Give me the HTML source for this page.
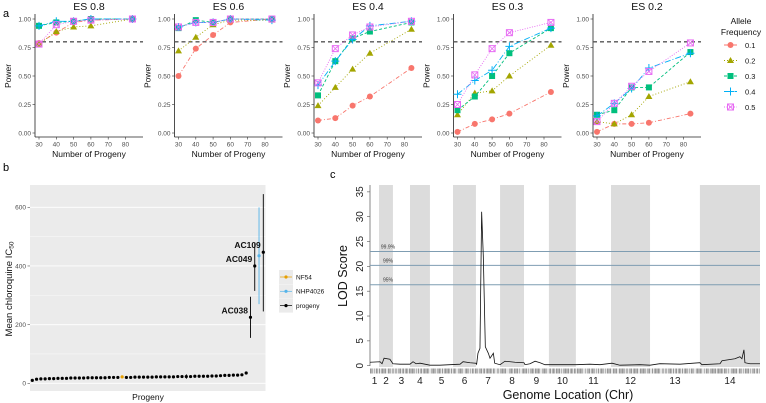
<!DOCTYPE html>
<html><head><meta charset="utf-8"><style>
html,body{margin:0;padding:0;background:#fff;}
svg{display:block;font-family:"Liberation Sans",sans-serif;}
</style></head><body>
<svg id="fig" width="766" height="403" viewBox="0 0 766 403" xmlns="http://www.w3.org/2000/svg"></svg>
<script>
// ---------- Panel a data ----------
const progenyN = [30, 40, 50, 60, 84];
const esTitles = ["ES 0.8", "ES 0.6", "ES 0.4", "ES 0.3", "ES 0.2"];
const afLabels = ["0.1", "0.2", "0.3", "0.4", "0.5"];
const es08 = [[.79,.88,.97,.99,1.0],[.78,.89,.93,.94,1.0],[.94,.97,.98,1.0,1.0],[.94,.98,.98,1.0,1.0],[.78,.95,.98,.99,1.0]];
const es06 = [[.50,.74,.86,.97,1.0],[.72,.84,.95,.99,.99],[.92,.99,.97,1.0,1.0],[.93,.97,.97,1.0,.99],[.93,.97,.97,1.0,1.0]];
const es04 = [[.11,.13,.24,.32,.57],[.24,.40,.56,.70,.91],[.33,.63,.83,.89,.97],[.42,.63,.82,.94,.98],[.44,.74,.86,.93,.98]];
const es03 = [[.01,.08,.12,.17,.36],[.16,.35,.37,.50,.77],[.20,.32,.50,.70,.92],[.34,.46,.55,.76,.92],[.25,.51,.74,.88,.97]];
const es02 = [[.01,.08,.08,.09,.17],[.10,.08,.16,.32,.45],[.16,.20,.40,.40,.71],[.15,.26,.39,.57,.70],[.10,.26,.41,.54,.79]];
const powerTicks = ["0.00", "0.25", "0.50", "0.75", "1.00"];
const xTicksA = [30, 40, 50, 60, 70, 80];
// ---------- Panel b data ----------
const progenyIC50 = [10,14,15,15,16,16,17,17,17,18,18,18,18,19,19,19,19,19,20,20,20,22,20,20,21,21,21,21,21,22,22,22,22,22,23,23,23,23,24,24,24,24,25,25,26,27,27,28,28,29,35];
const progenyErr = [2,2,2,2,2,2,2,2,2,2,3,2,2,2,2,3,2,2,3,2,2,2,2,2,2,2,2,2,2,2,2,2,3,2,2,2,8,2,2,2,2,2,2,2,2,2,2,2,2,2,3];
const nf54Index = 21;
const highNames = ["AC038", "AC049", "NHP4026", "AC109"];
const highValues = [225, 400, 435, 447];
const highLo = [155, 315, 270, 245];
const highHi = [295, 480, 600, 645];
const icTicks = [0, 200, 400, 600];
// ---------- Panel c data ----------
const chrBounds = [0,0.54,1.37,2.39,3.58,4.96,6.33,7.77,9.2,10.69,12.3,14.4,16.73,19.71,23.3];
const lodPos = [0,0.6,0.72,0.84,1.19,1.37,1.79,2.39,2.57,2.75,2.99,3.58,4.18,4.78,5.38,5.56,5.98,6.33,6.37,6.45,6.57,6.67,6.77,6.89,7.07,7.17,7.37,7.45,7.77,8.06,8.66,9.2,9.26,9.56,9.86,10.16,10.45,11.35,12.31,13.14,13.74,14.46,14.93,16.13,16.73,17.32,18.52,19.71,19.83,20.91,21.03,21.8,22.1,22.22,22.34,22.4,22.7,23.3];
const lodVal = [0.7,0.8,0.4,1.5,1.3,0.4,0.3,0.3,0.8,0.4,0.5,0.1,0.1,0.2,0.3,0.8,0.6,0.5,0.3,2.5,3.5,31,22,3.8,2.5,1.5,2.5,0.5,0.2,0.9,0.7,0.6,0.2,0.4,0.9,0.6,0.2,0.2,0.2,0.3,0.2,0.5,0.1,0.2,0.1,0.4,0.3,0.6,0.2,0.4,1.0,1.4,1.8,1.4,3.2,0.6,0.4,0.4];
const thrNames = ["99.9%", "99%", "95%"];
const thrVals = [23.0, 20.2, 16.3];
const lodTicks = [0, 5, 10, 15, 20, 25, 30, 35];

const NS = "http://www.w3.org/2000/svg";
const svg = document.getElementById("fig");
function mk(tag, attrs, parent, text) {
  const e = document.createElementNS(NS, tag);
  for (const k in attrs) e.setAttribute(k, attrs[k]);
  if (text !== undefined) e.textContent = text;
  (parent || svg).appendChild(e);
  return e;
}

const colors = ["#F8766D", "#A3A500", "#00BF7D", "#00B0F6", "#E76BF3"];
const dashes = ["4,2,1,2", "1,2", "3,2", "6,2,1,2", "1,1.5"];
function marker(g, k, x, y) {
  const c = colors[k];
  let m;
  if (k === 0) m = mk("circle", {cx: x, cy: y, r: 3, fill: c}, g);
  else if (k === 1) m = mk("polygon", {points: `${x},${y-3.5} ${x+3.5},${y+2.5} ${x-3.5},${y+2.5}`, fill: c}, g);
  else if (k === 2) m = mk("rect", {x: x-3, y: y-3, width: 6, height: 6, fill: c}, g);
  else if (k === 3) {
    m = mk("path", {d: `M${x-4},${y}H${x+4}M${x},${y-4}V${y+4}`, stroke: c, "stroke-width": 1}, g);
  } else {
    m = mk("g", {}, g);
    mk("rect", {x: x-3, y: y-3, width: 6, height: 6, fill: "none", stroke: c, "stroke-width": 1}, m);
    mk("path", {d: `M${x-3},${y-3}L${x+3},${y+3}M${x+3},${y-3}L${x-3},${y+3}`, stroke: c, "stroke-width": 0.8}, m);
  }
  return m;
}

// ---------- Panel a ----------
const esData = [es08, es06, es04, es03, es02];
const axisXs = [35, 174.5, 314, 453.5, 593];
const yA = v => 133 - v * 114;
mk("text", {x: 3, y: 17, "font-size": 11}, svg, "a");
esData.forEach((series, p) => {
  const ax = axisXs[p];
  const xA = v => ax + 4 + (v - 30) * 1.73;
  const g = mk("g", {});
  
  
  const t = mk("text", {x: ax + 54, y: 10, "font-size": 10.5, "text-anchor": "middle", fill: "#111"}, g, esTitles[p]);
  
  
  mk("line", {x1: ax, y1: 14, x2: ax, y2: 137, stroke: "#222", "stroke-width": 0.8}, g);
  mk("line", {x1: ax, y1: 137, x2: ax + 108, y2: 137, stroke: "#222", "stroke-width": 0.8}, g);
  powerTicks.forEach(tk => {
    const y = yA(parseFloat(tk));
    mk("line", {x1: ax - 2.5, y1: y, x2: ax, y2: y, stroke: "#333", "stroke-width": 0.6}, g);
    mk("text", {x: ax - 4, y: y + 2.3, "font-size": 6.5, "text-anchor": "end", fill: "#4d4d4d"}, g, tk);
  });
  xTicksA.forEach(tk => {
    const x = xA(tk);
    mk("line", {x1: x, y1: 137, x2: x, y2: 139.5, stroke: "#333", "stroke-width": 0.6}, g);
    mk("text", {x: x, y: 146.5, "font-size": 6.5, "text-anchor": "middle", fill: "#4d4d4d"}, g, String(tk));
  });
  const xl = mk("text", {x: ax + 54, y: 157, "font-size": 8.5, "text-anchor": "middle", fill: "#111"}, g, "Number of Progeny");
  
  
  const yl = mk("text", {x: 0, y: 0, "font-size": 8.5, "text-anchor": "middle", fill: "#111", transform: `translate(${ax - 24},76) rotate(-90)`}, g, "Power");
  
  
  mk("line", {x1: ax, y1: yA(0.8), x2: ax + 108, y2: yA(0.8), stroke: "#555", "stroke-width": 1.3, "stroke-dasharray": "4,3"}, g);
  series.forEach((vals, k) => {
    const pts = vals.map((v, i) => `${xA(progenyN[i])},${yA(v)}`).join(" ");
    const pl = mk("polyline", {points: pts, fill: "none", stroke: colors[k], "stroke-width": 0.9, "stroke-dasharray": dashes[k]}, g);
    
    
    vals.forEach((v, i) => {
      const m = marker(g, k, xA(progenyN[i]), yA(v));
      
      
    });
  });
});
// legend a
const lg = mk("g", {});


mk("text", {x: 741, y: 24, "font-size": 8.5, "text-anchor": "middle", fill: "#111"}, lg, "Allele");
mk("text", {x: 741, y: 35, "font-size": 8.5, "text-anchor": "middle", fill: "#111"}, lg, "Frequency");
afLabels.forEach((l, k) => {
  const y = 45 + k * 15.5;
  const e = mk("g", {}, lg);
  
  
  mk("line", {x1: 724, y1: y, x2: 737, y2: y, stroke: colors[k], "stroke-width": 0.9, "stroke-dasharray": dashes[k]}, e);
  marker(e, k, 730.5, y);
  mk("text", {x: 745, y: y + 2.8, "font-size": 7.5, fill: "#111"}, e, l);
});

// ---------- Panel b ----------
mk("text", {x: 3, y: 171, "font-size": 11}, svg, "b");
const gb = mk("g", {});


const yB = v => 383.3 - v * 0.2933;
const nTotal = progenyIC50.length + highValues.length;
const xB = i => 32.3 + i * (263.3 - 32.3) / (nTotal - 1);
mk("rect", {x: 30, y: 185, width: 235.5, height: 206, fill: "#ebebeb"}, gb);
[100, 300, 500].forEach(v => mk("line", {x1: 30, y1: yB(v), x2: 265.5, y2: yB(v), stroke: "#fff", "stroke-width": 0.4}, gb));
icTicks.forEach(v => {
  mk("line", {x1: 30, y1: yB(v), x2: 265.5, y2: yB(v), stroke: "#fff", "stroke-width": 0.9}, gb);
  mk("line", {x1: 27.5, y1: yB(v), x2: 30, y2: yB(v), stroke: "#333", "stroke-width": 0.5}, gb);
  mk("text", {x: 26, y: yB(v) + 2.3, "font-size": 6.5, "text-anchor": "end", fill: "#4d4d4d"}, gb, String(v));
});
const byl = mk("text", {x: 0, y: 0, "font-size": 9.5, "text-anchor": "middle", fill: "#111", transform: "translate(12,289) rotate(-90)"}, gb);
byl.innerHTML = 'Mean chloroquine IC<tspan font-size="6.5" dy="1.5">50</tspan>';


const bxl = mk("text", {x: 148, y: 400, "font-size": 8.5, "text-anchor": "middle", fill: "#111"}, gb, "Progeny");


progenyIC50.forEach((v, i) => {
  const c = i === nf54Index ? "#E69F00" : "#000";
  mk("line", {x1: xB(i), y1: yB(v - progenyErr[i]), x2: xB(i), y2: yB(v + progenyErr[i]), stroke: c, "stroke-width": 0.7}, gb);
  const d = mk("circle", {cx: xB(i), cy: yB(v), r: 1.6, fill: c}, gb);
  
  
});
highValues.forEach((v, j) => {
  const i = progenyIC50.length + j;
  const c = highNames[j] === "NHP4026" ? "#56B4E9" : "#000";
  mk("line", {x1: xB(i), y1: yB(highLo[j]), x2: xB(i), y2: yB(highHi[j]), stroke: c, "stroke-width": 0.9}, gb);
  const d = mk("circle", {cx: xB(i), cy: yB(v), r: 1.6, fill: c}, gb);
  
  
  if (highNames[j] !== "NHP4026") {
    const lt = mk("text", {x: xB(i) - 2.5, y: yB(v) - 4, "font-size": 8.5, "font-weight": "bold", "text-anchor": "end", fill: "#111"}, gb, highNames[j]);
    
    
  }
});
const lb = mk("g", {}, gb);


[["NF54", "#E69F00"], ["NHP4026", "#56B4E9"], ["progeny", "#000"]].forEach((e, k) => {
  const y = 277 + k * 14.3;
  mk("rect", {x: 279, y: y - 7, width: 14, height: 14, fill: "#ebebeb"}, lb);
  mk("line", {x1: 280, y1: y, x2: 292, y2: y, stroke: e[1], "stroke-width": 0.7}, lb);
  mk("circle", {cx: 286, cy: y, r: 1.6, fill: e[1]}, lb);
  mk("text", {x: 296, y: y + 2.3, "font-size": 6.5, fill: "#111"}, lb, e[0]);
});

// ---------- Panel c ----------
mk("text", {x: 330, y: 178, "font-size": 11}, svg, "c");
const gc = mk("g", {});


const xC = v => 370 + v * (390 / 23.3);
const yC = v => 365.7 - v * 4.967;
for (let c = 1; c < chrBounds.length - 1; c += 2) {
  const r = mk("rect", {x: xC(chrBounds[c]), y: 185, width: xC(chrBounds[c + 1]) - xC(chrBounds[c]), height: 182, fill: "#dcdcdc"}, gc);
  
  
}
for (let c = 0; c < chrBounds.length - 1; c++) {
  const mid = (xC(chrBounds[c]) + xC(chrBounds[c + 1])) / 2;
  mk("text", {x: mid, y: 384, "font-size": 10, "text-anchor": "middle", fill: "#222"}, gc, String(c + 1));
}
// rug (decorative marker density strip)
const rug = mk("g", {}, gc);


mk("rect", {x: 370, y: 368.5, width: 390, height: 5, fill: "#e6e6e6"}, rug);
for (let i = 0; i <= 390; i += 1) {
  if (i % 7 === 3 || i % 11 === 5 || i % 13 === 8) continue;
  mk("line", {x1: 370 + i + 0.5, y1: 368.5, x2: 370 + i + 0.5, y2: 373.5, stroke: "#555", "stroke-width": 0.6, opacity: (i % 3 === 0) ? 0.9 : 0.55}, rug);
}
mk("line", {x1: 370, y1: 185, x2: 370, y2: 366, stroke: "#555", "stroke-width": 0.7}, gc);
lodTicks.forEach(v => {
  mk("line", {x1: 367, y1: yC(v), x2: 370, y2: yC(v), stroke: "#555", "stroke-width": 0.6}, gc);
  mk("text", {x: 0, y: 0, "font-size": 10, "text-anchor": "middle", fill: "#222", transform: `translate(363,${yC(v)}) rotate(-90)`}, gc, String(v));
});
const cyl = mk("text", {x: 0, y: 0, "font-size": 12.5, "text-anchor": "middle", fill: "#111", transform: "translate(347,276) rotate(-90)"}, gc, "LOD Score");


const cxl = mk("text", {x: 568, y: 399, "font-size": 12.5, "text-anchor": "middle", fill: "#111"}, gc, "Genome Location (Chr)");


thrVals.forEach((v, k) => {
  const l = mk("line", {x1: 370, y1: yC(v), x2: 760, y2: yC(v), stroke: "#7f9db2", "stroke-width": 1}, gc);
  
  
  mk("text", {x: 388, y: yC(v) - 3, "font-size": 5, "text-anchor": "middle", fill: "#333"}, gc, thrNames[k]);
});
const lodLine = mk("polyline", {points: lodPos.map((p, i) => `${xC(p)},${yC(lodVal[i])}`).join(" "), fill: "none", stroke: "#111", "stroke-width": 0.8}, gc);


</script>
</body></html>
